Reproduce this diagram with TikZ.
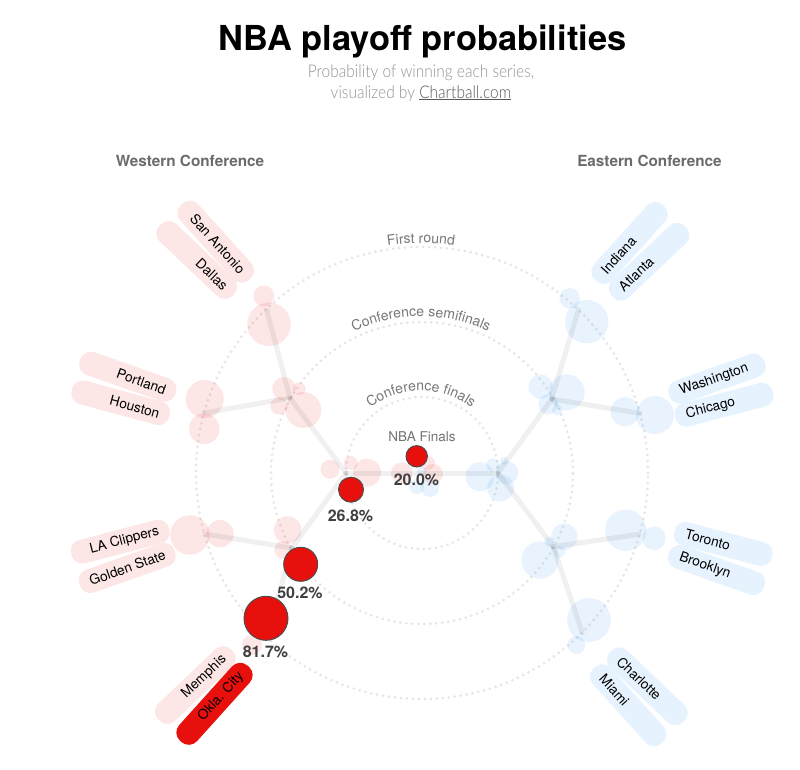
\documentclass[tikz,border=0pt]{standalone}
\usepackage{fontspec}
\setmainfont{TeX Gyre Heros}
\newfontfamily\lightf[FakeStretch=0.885]{Lato Light}
\usetikzlibrary{decorations.text}
\definecolor{nbared}{HTML}{E8100C}
\definecolor{westpill}{HTML}{FCE6E6}
\definecolor{eastpill}{HTML}{E6F3FE}
\definecolor{eastbub}{RGB}{0,130,240}
\definecolor{ringc}{HTML}{E6E6E6}
\newcommand{\fs}[1]{\fontsize{#1}{#1}\selectfont}
\newcommand{\ringfont}{\fs{14}\color[HTML]{777777}}
\newcommand{\wt}[1]{\makebox[80pt][r]{#1}}
\newcommand{\et}[1]{\makebox[78pt][l]{#1}}
\tikzset{
  x=1pt,y=1pt,
  ring/.style={draw=ringc,line width=3pt,line cap=round,dash pattern=on 0pt off 6pt},
  link/.style={draw=black,draw opacity=.06,line width=5pt,line cap=round},
  wbub/.style={circle,inner sep=0pt,fill=nbared,fill opacity=.1,minimum size=2*#1},
  ebub/.style={circle,inner sep=0pt,fill=eastbub,fill opacity=.09,minimum size=2*#1},
  win/.style={circle,inner sep=0pt,fill=nbared,draw=black!70,line width=1pt,minimum size=2*#1},
  pct/.style={font=\bfseries\fs{16},text=black!75,anchor=base},
  wpill/.style={rounded corners=11pt,fill=westpill,minimum width=101pt,minimum height=24pt,inner sep=0pt,font=\fs{13.7},rotate=#1},
  epill/.style={rounded corners=11pt,fill=eastpill,minimum width=101pt,minimum height=24pt,inner sep=0pt,font=\fs{13.7},rotate=#1},
  conf/.style={font=\bfseries\fs{15.3},text=black!58,anchor=base},
  subt/.style={font=\lightf\fs{17.5},text=black!42,anchor=base},
  ringtext/.style={decorate,decoration={text along path,text align=center,text={#1}}}
}
\begin{document}
\begin{tikzpicture}
\useasboundingbox (0,0) rectangle (800,-769);
\fill[white] (0,0) rectangle (800,-769);
\coordinate (c) at (422,-473);
\coordinate (ct) at (421,-473);
% title
\node[font=\bfseries\fs{34.4},anchor=base] (title) at (422.5,-50) {NBA playoff probabilities};
\node[subt] (sub1) at (421,-77) {Probability of winning each series,};
\node[subt] (sub2) at (421,-98) {visualized by \textcolor{black!65}{\underline{Chartball.com}}};
\node[conf] (west) at (190,-166) {Western Conference};
\node[conf] (east) at (649.5,-166) {Eastern Conference};
% rings
\draw[ring] (c) circle[radius=76];
\draw[ring] (c) circle[radius=151];
\draw[ring] (c) circle[radius=226];
\path[ringtext={|\ringfont|First round}] (ct)++(115:230) arc[start angle=115,end angle=65,radius=230];
\path[ringtext={|\ringfont|Conference semifinals}] (ct)++(125:156.5) arc[start angle=125,end angle=55,radius=156.5];
\path[ringtext={|\ringfont|Conference finals}] (ct)++(140:82.5) arc[start angle=140,end angle=40,radius=82.5];
\node[font=\fs{13.5},text=black!55,anchor=base] (finals) at (422,-441) {NBA Finals};
% west bubbles
\node[wbub=10.5] (sab1) at (263.7,-296) {};
\node[wbub=21.7] (dal1) at (269,-324.3) {};
\node[wbub=19] (por1) at (204.7,-399) {};
\node[wbub=15.3] (hou1) at (204.3,-428.7) {};
\node[wbub=19.7] (lac1) at (190,-535) {};
\node[wbub=13.7] (gsw1) at (220,-533.7) {};
\node[wbub=10] (mem1) at (252,-645) {};
\node[wbub=11.7] (sab2) at (284,-388.7) {};
\node[wbub=8.7] (dal2) at (279,-406) {};
\node[wbub=6.3] (por2) at (299.3,-388.7) {};
\node[wbub=18] (hou2) at (303.3,-410) {};
\node[wbub=13.7] (lac2) at (287.7,-530) {};
\node[wbub=8.7] (gsw2) at (283,-550) {};
\node[wbub=9.5] (w3a) at (330,-469.3) {};
\node[wbub=7] (w3b) at (350.7,-463) {};
\node[wbub=14] (w3c) at (367,-472.7) {};
\node[wbub=10.7] (f1) at (401.7,-473) {};
\node[wbub=7] (f2) at (428,-463) {};
\node[wbub=10] (f3) at (433,-474) {};
% east bubbles
\node[ebub=7.5] (f4) at (416.7,-486.7) {};
\node[ebub=9] (f5) at (430,-488) {};
\node[ebub=5] (f6) at (421.7,-471.7) {};
\node[ebub=14.5] (e3a) at (480,-476.7) {};
\node[ebub=6.7] (e3b) at (493,-465) {};
\node[ebub=11.5] (e3c) at (506.7,-472.7) {};
\node[ebub=13.5] (e3d) at (500.7,-488) {};
\node[ebub=4] (e3e) at (504,-460.7) {};
\node[ebub=10.3] (ind1) at (569.7,-298.3) {};
\node[ebub=21.7] (atl1) at (586.7,-321.7) {};
\node[ebub=14.5] (was1) at (625,-411.7) {};
\node[ebub=19] (chi1) at (655,-415) {};
\node[ebub=12.3] (ind2) at (540.7,-386.7) {};
\node[ebub=18] (atl2) at (566.7,-392.3) {};
\node[ebub=10] (was2) at (548.3,-404.3) {};
\node[ebub=5.5] (chi2) at (557.3,-410) {};
\node[ebub=13.3] (tor2) at (564.3,-536.7) {};
\node[ebub=18.7] (bro2) at (540,-560) {};
\node[ebub=5.7] (cha2) at (559.3,-551.7) {};
\node[ebub=5] (mia2) at (549.3,-541.7) {};
\node[ebub=20.7] (tor1) at (625.7,-530.3) {};
\node[ebub=11.7] (bro1) at (654,-538.3) {};
\node[ebub=22] (cha1) at (589,-620) {};
\node[ebub=9] (mia1) at (576.3,-645) {};
% junctions
\coordinate (jf) at (422,-473);
\coordinate (jw3) at (346,-473);
\coordinate (je3) at (498,-473);
\coordinate (jw2a) at (290,-398);
\coordinate (jw2b) at (292,-548);
\coordinate (je2a) at (551.7,-399);
\coordinate (je2b) at (553.3,-546.7);
\coordinate (jw1a) at (266.7,-310);
\coordinate (jw1b) at (204,-413);
\coordinate (jw1c) at (205,-534);
\coordinate (jw1d) at (267,-636);
\coordinate (je1a) at (578.3,-310);
\coordinate (je1b) at (640,-413.3);
\coordinate (je1c) at (639,-534.3);
\coordinate (je1d) at (582.3,-632.7);
\draw[link] (jw3) -- (je3);
\draw[link] (jw3) -- (jw2a);
\draw[link] (jw3) -- (jw2b);
\draw[link] (je3) -- (je2a);
\draw[link] (je3) -- (je2b);
\draw[link] (jw2a) -- (jw1a);
\draw[link] (jw2a) -- (jw1b);
\draw[link] (jw2b) -- (jw1c);
\draw[link] (jw2b) -- (jw1d);
\draw[link] (je2a) -- (je1a);
\draw[link] (je2a) -- (je1b);
\draw[link] (je2b) -- (je1c);
\draw[link] (je2b) -- (je1d);
% winners
\node[win=22] (okc1) at (266,-618.3) {};
\node[win=17] (okc2) at (300.7,-564.3) {};
\node[win=12.5] (okc3) at (351,-489.7) {};
\node[win=10.7] (okc4) at (416.7,-456.3) {};
\node[pct] (p1) at (265.5,-657.5) {81.7\%};
\node[pct] (p2) at (300,-598) {50.2\%};
\node[pct] (p3) at (350.5,-521) {26.8\%};
\node[pct] (p4) at (416.5,-485) {20.0\%};
% west pills
\node[wpill=-48] (sa) at (215.8,-241.7) {\wt{San Antonio}};
\node[wpill=-43.5] (da) at (196.7,-260) {\wt{Dallas}};
\node[wpill=-19.4] (po) at (127.8,-376.7) {\wt{Portland}};
\node[wpill=-15.2] (ho) at (120.7,-402.8) {\wt{Houston}};
\node[wpill=14.6] (la) at (120.2,-541.7) {\wt{LA Clippers}};
\node[wpill=19.5] (gs) at (127.2,-568) {\wt{Golden State}};
\node[wpill=43.5] (me) at (195.3,-685) {\wt{Memphis}};
\node[wpill=48,fill=nbared] (ok) at (214.5,-703.8) {\wt{Okla. City}};
% east pills
\node[epill=48] (in) at (629.5,-243) {\et{Indiana}};
\node[epill=43.5] (at) at (649,-261.7) {\et{Atlanta}};
\node[epill=19.4] (wa) at (717,-378.7) {\et{Washington}};
\node[epill=14.7] (ch) at (724,-404.8) {\et{Chicago}};
\node[epill=-14.7] (to) at (723.3,-544) {\et{Toronto}};
\node[epill=-19.5] (br) at (716.5,-570) {\et{Brooklyn}};
\node[epill=-43.5] (cl) at (647.3,-686.3) {\et{Charlotte}};
\node[epill=-48] (mi) at (628.2,-705.3) {\et{Miami}};
\end{tikzpicture}
\end{document}
